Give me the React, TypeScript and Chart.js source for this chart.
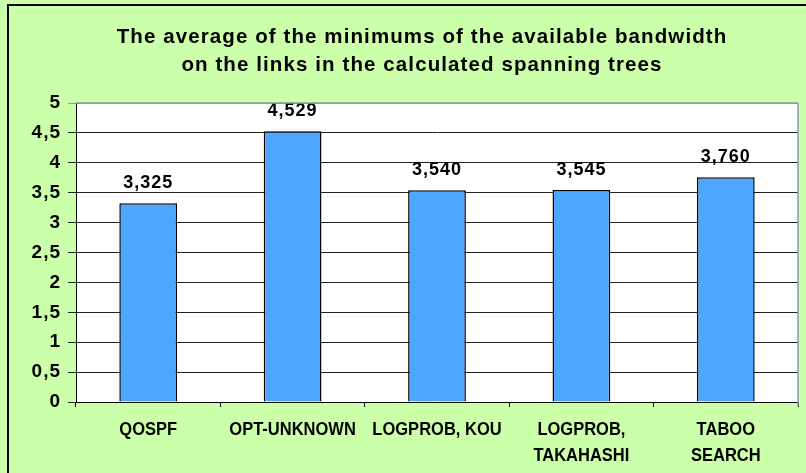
import React, { useEffect, useRef } from 'react';
import { Chart, registerables } from 'chart.js';

Chart.register(...registerables);

const categories: string[][] = [
  ['QOSPF'],
  ['OPT-UNKNOWN'],
  ['LOGPROB, KOU'],
  ['LOGPROB,', 'TAKAHASHI'],
  ['TABOO', 'SEARCH'],
];
const values = [3.325, 4.529, 3.54, 3.545, 3.76];
const titleLines = [
  'The average of the minimums of the available bandwidth',
  'on the links in the calculated spanning trees',
];
const yMin = 0;
const yMax = 5;
const yStep = 0.5;

const FAMILY = "'Liberation Sans', Arial, sans-serif";
const GREEN = '#CCFFAA';
const BAR = '#4DA6FF';

const fmtValue = (v: number) => v.toFixed(3).replace('.', ',');
const fmtTick = (v: number) => String(v).replace('.', ',');

const bgPlugin = {
  id: 'bgPlugin',
  beforeDraw(chart: any) {
    const { ctx, chartArea, width, height } = chart;
    ctx.save();
    ctx.fillStyle = GREEN;
    ctx.fillRect(0, 0, width, height);
    ctx.fillStyle = '#FFFFFF';
    ctx.fillRect(chartArea.left, chartArea.top, chartArea.right - chartArea.left, chartArea.bottom - chartArea.top);
    ctx.fillStyle = '#000000';
    ctx.fillRect(7, 4, 2, height - 4);
    ctx.fillRect(7, 4, width - 7, 2);
    // title
    ctx.letterSpacing = '1.1px';
    ctx.font = `bold 20.5px ${FAMILY}`;
    ctx.textAlign = 'center';
    ctx.textBaseline = 'middle';
    titleLines.forEach((t, i) => {
      ctx.fillText(t, 422, 37 + i * 28);
    });
    ctx.restore();
    ctx.letterSpacing = '1px';
  },
  afterDraw(chart: any) {
    const { ctx, chartArea } = chart;
    ctx.save();
    ctx.strokeStyle = '#8C9C9C';
    ctx.lineWidth = 1.5;
    ctx.beginPath();
    ctx.moveTo(chartArea.right, chartArea.top);
    ctx.lineTo(chartArea.right, chartArea.bottom + 4);
    ctx.moveTo(chartArea.left, chartArea.top);
    ctx.lineTo(chartArea.right, chartArea.top);
    ctx.stroke();
    // x category labels
    const xs = chart.scales.x;
    ctx.letterSpacing = '0px';
    ctx.fillStyle = '#000';
    ctx.font = `bold 16.5px ${FAMILY}`;
    ctx.textAlign = 'center';
    ctx.textBaseline = 'middle';
    categories.forEach((lines, i) => {
      const x = xs.getPixelForValue(i);
      lines.forEach((t, j) => {
        const y = chartArea.bottom + 27.5 + j * 26;
        ctx.save();
        ctx.translate(x, y);
        ctx.scale(1, 1.1);
        ctx.fillText(t, 0, 0);
        ctx.restore();
      });
    });
    ctx.restore();
  },
};

const labelPlugin = {
  id: 'labelPlugin',
  afterDatasetsDraw(chart: any) {
    const { ctx } = chart;
    const meta = chart.getDatasetMeta(0);
    ctx.save();
    ctx.letterSpacing = '1px';
    ctx.fillStyle = '#000';
    ctx.font = `bold 18px ${FAMILY}`;
    ctx.textAlign = 'center';
    ctx.textBaseline = 'alphabetic';
    meta.data.forEach((bar: any, i: number) => {
      ctx.fillText(fmtValue(values[i]), bar.x, bar.y - 15);
    });
    ctx.restore();
  },
};

export default function App() {
  const ref = useRef<HTMLCanvasElement | null>(null);
  useEffect(() => {
    if (!ref.current) return;
    const chart = new Chart(ref.current, {
      type: 'bar',
      data: {
        labels: categories.map((c) => c.join(' ')),
        datasets: [
          {
            data: values,
            backgroundColor: BAR,
            borderColor: '#000',
            borderWidth: 1.5,
            categoryPercentage: 1,
            barPercentage: 0.4,
          },
        ],
      },
      options: {
        animation: false,
        responsive: true,
        maintainAspectRatio: false,
        layout: { padding: { left: 0, right: 8, top: 103, bottom: 0 } },
        plugins: {
          legend: { display: false },
          tooltip: { enabled: false },
          title: { display: false },
        },
        scales: {
          x: {
            offset: true,
            grid: {
              display: true,
              drawOnChartArea: false,
              drawTicks: true,
              tickLength: 5,
              color: '#000',
              offset: true,
            },
            border: { display: true, color: '#000', width: 1 },
            ticks: {
              color: 'rgba(0,0,0,0)',
              maxRotation: 0,
              autoSkip: false,
              font: { family: FAMILY, size: 10 },
            },
            afterFit(scale: any) {
              scale.height = 71;
            },
          },
          y: {
            min: yMin,
            max: yMax,
            grid: {
              color: (c: any) => (c.tick && c.tick.value === yMax ? '#8C9C9C' : '#222'),
              tickLength: 8,
              drawTicks: true,
              lineWidth: 1,
            },
            border: { display: true, color: '#000', width: 1 },
            ticks: {
              stepSize: yStep,
              color: '#000',
              padding: 7,
              font: { family: FAMILY, size: 19, weight: 'bold' },
              callback: (v: any) => fmtTick(Number(v)),
            },
            afterFit(scale: any) {
              scale.width = 76;
            },
          },
        },
      },
      plugins: [bgPlugin, labelPlugin],
    });
    return () => chart.destroy();
  }, []);
  return (
    <div style={{ position: 'absolute', left: 0, top: 0, width: 806, height: 473 }}>
      <canvas ref={ref} />
    </div>
  );
}
